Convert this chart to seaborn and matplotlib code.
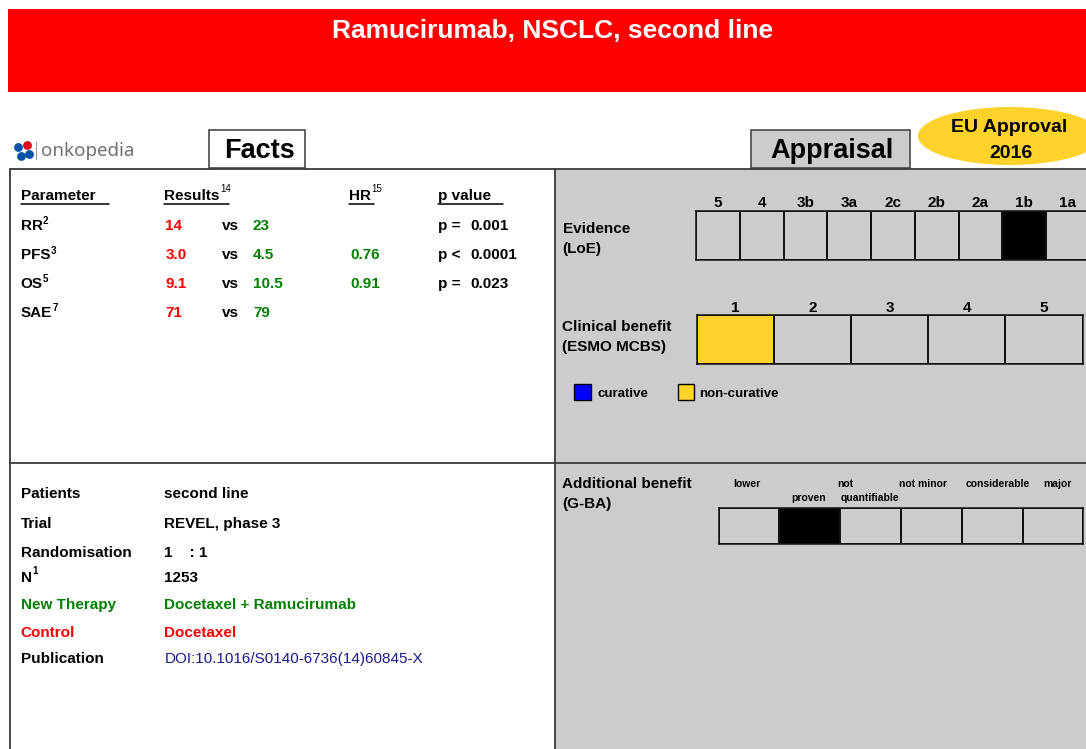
import numpy as np
import matplotlib.pyplot as plt
import seaborn as sns
from matplotlib.colors import ListedColormap
from matplotlib.patches import Rectangle, Ellipse

# ==============================================================================
# DATA
# ==============================================================================
title = "Ramucirumab, NSCLC, second line"
approval_text = "EU Approval"
approval_year = "2016"

fact_headers = ["Parameter", "Results", "HR", "p value"]
fact_header_refs = ["", "14", "15", ""]
fact_params = ["RR", "PFS", "OS", "SAE"]
fact_refs = ["2", "3", "5", "7"]
control_results = ["14", "3.0", "9.1", "71"]
new_results = ["23", "4.5", "10.5", "79"]
hazard_ratios = ["", "0.76", "0.91", ""]
p_signs = ["p =", "p <", "p =", ""]
p_values = ["0.001", "0.0001", "0.023", ""]

trial_labels = ["Patients", "Trial", "Randomisation", "N", "New Therapy", "Control", "Publication"]
trial_label_refs = ["", "", "", "1", "", "", ""]
trial_values = ["second line", "REVEL, phase 3", "1    : 1", "1253",
                "Docetaxel + Ramucirumab", "Docetaxel", "DOI:10.1016/S0140-6736(14)60845-X"]

loe_levels = ["5", "4", "3b", "3a", "2c", "2b", "2a", "1b", "1a"]
loe_rating = "1b"
esmo_grades = ["1", "2", "3", "4", "5"]
esmo_rating = "1"
gba_levels = ["lower", "not proven", "not quantifiable", "not minor", "considerable", "major"]
gba_rating = "not proven"

# ==============================================================================
# STYLE / LAYOUT (pixel units, figure is 1086 x 749)
# ==============================================================================
W, H = 1086, 749
RED = "#ff0000"
GREEN = "#008000"
NAVY = "#1a1a8c"
PANEL = "#cccccc"
GOLD = "#fdd22b"
EDGE = "#3a3a3a"

sns.set_theme(style="white")
plt.rcParams["font.family"] = ["Liberation Sans", "DejaVu Sans"]
plt.rcParams["text.color"] = "black"
plt.rcParams["xtick.color"] = "black"
plt.rcParams["xtick.labelcolor"] = "black"

fig = plt.figure(figsize=(W / 100, H / 100), dpi=100)
bg = fig.add_axes([0, 0, 1, 1])
bg.set_xlim(0, W)
bg.set_ylim(H, 0)
bg.axis("off")
renderer = fig.canvas.get_renderer()


def text_sup(x, y, base, sup, size=11, sup_size=7, rise=5, sup_weight="bold", **kw):
    """Draw base text with a small superscript right after it."""
    t = bg.text(x, y, base, fontsize=size, va="baseline", **kw)
    if sup:
        bb = t.get_window_extent(renderer)
        x_end = bg.transData.inverted().transform((bb.x1, bb.y0))[0]
        bg.text(x_end + 0.3, y - rise, sup, fontsize=sup_size, va="baseline",
                fontweight=sup_weight, color=kw.get("color", "black"))
    return t


# --- header band -------------------------------------------------------------
bg.add_patch(Rectangle((8, 8.5), W, 83, fc=RED, ec="none"))
bg.text(553, 37.7, title, color="white", fontsize=19, fontweight="bold",
        ha="center", va="baseline")

# --- logo ----------------------------------------------------------------------
bg.scatter([17.5, 20.5, 29], [147, 156, 153.5], s=40, color="#0054a6", zorder=3, linewidths=0)
bg.scatter([27], [144.5], s=40, color="#e2001a", zorder=3, linewidths=0)
bg.plot([36, 36], [141.5, 158.5], color="#9a9a9a", lw=0.8)
bg.text(40.5, 156.5, "onkopedia", fontsize=13.5, color="#707070", va="baseline",
        family=["Noto Sans", "DejaVu Sans"], fontweight="semibold")

# --- section tabs ----------------------------------------------------------------
bg.add_patch(Rectangle((208.5, 130), 96, 38, fc="white", ec=EDGE, lw=1.1))
bg.text(259, 158.3, "Facts", fontsize=19.5, fontweight="bold", ha="center", va="baseline")
bg.add_patch(Rectangle((751, 130), 159, 38, fc=PANEL, ec=EDGE, lw=1.1))
bg.text(832, 158.3, "Appraisal", fontsize=19.5, fontweight="bold", ha="center", va="baseline")
bg.add_patch(Ellipse((1010, 136), 184, 58, fc=GOLD, ec="none"))
bg.text(1009.5, 131.7, approval_text, fontsize=14, fontweight="bold", ha="center", va="baseline")
bg.text(1011, 158.3, approval_year, fontsize=14, fontweight="bold", ha="center", va="baseline")

# --- panels --------------------------------------------------------------------
bg.add_patch(Rectangle((555, 169), W - 555 + 5, H - 169 + 5, fc=PANEL, ec="none"))
bg.plot([10, W], [169, 169], color=EDGE, lw=1.3)
bg.plot([10, 10], [169, H + 2], color=EDGE, lw=1.3)
bg.plot([555, 555], [169, H + 2], color=EDGE, lw=1.3)
bg.plot([10, W], [462.5, 462.5], color=EDGE, lw=1.3)

# --- facts table -----------------------------------------------------------------
header_x = [20.7, 164.3, 349.3, 438.2]
underline_end = [109, 228.6, 374, 502.5]
for hx, ux, head, ref in zip(header_x, underline_end, fact_headers, fact_header_refs):
    text_sup(hx, 200, head, ref, fontweight="bold", rise=8.5, sup_weight="normal")
    bg.plot([hx, ux], [203.5, 203.5], color="black", lw=1.1)

row_y = [230, 259, 288, 316.7]
for i, yy in enumerate(row_y):
    text_sup(20.7, yy, fact_params[i], fact_refs[i], fontweight="bold", rise=5.5)
    bg.text(165.4, yy, control_results[i], color=RED, fontsize=11, fontweight="bold", va="baseline")
    bg.text(222, yy, "vs", fontsize=11, fontweight="bold", va="baseline")
    bg.text(252.9, yy, new_results[i], color=GREEN, fontsize=11, fontweight="bold", va="baseline")
    bg.text(350, yy, hazard_ratios[i], color=GREEN, fontsize=11, fontweight="bold", va="baseline")
    bg.text(438.2, yy, p_signs[i], fontsize=11, fontweight="bold", va="baseline")
    bg.text(470.7, yy, p_values[i], fontsize=11, fontweight="bold", va="baseline")

# --- trial description -----------------------------------------------------------
trial_y = [497.7, 527.7, 556.7, 582.3, 609.3, 636.7, 663.3]
label_colours = ["black", "black", "black", "black", GREEN, RED, "black"]
value_colours = ["black", "black", "black", "black", GREEN, RED, NAVY]
for i, yy in enumerate(trial_y):
    text_sup(20.7, yy, trial_labels[i], trial_label_refs[i], fontweight="bold",
             color=label_colours[i], rise=8.5)
    weight = "normal" if i == len(trial_y) - 1 else "bold"
    bg.text(164.3, yy, trial_values[i], color=value_colours[i], fontsize=11,
            fontweight=weight, va="baseline")

# --- appraisal labels --------------------------------------------------------------
for yy, txt in [(233, "Evidence"), (252.7, "(LoE)"), (331, "Clinical benefit"),
                (350.7, "(ESMO MCBS)"), (487.7, "Additional benefit"), (507.7, "(G-BA)")]:
    bg.text(562.5, yy, txt, fontsize=11, fontweight="bold", va="baseline")

# legend for ESMO scale
bg.add_patch(Rectangle((574, 383.5), 17, 16, fc="#0000ff", ec="black", lw=1))
bg.text(597, 396.7, "curative", fontsize=9.5, fontweight="bold", va="baseline")
bg.add_patch(Rectangle((677.5, 383.5), 16, 16, fc=GOLD, ec="black", lw=1))
bg.text(698.7, 396.7, "non-curative", fontsize=9.5, fontweight="bold", va="baseline")

# G-BA header words as laid out in the source slide
gba_header = [("lower", 747, 486.7), ("not", 845, 486.7), ("not minor", 922.7, 486.7),
              ("considerable", 998, 486.7), ("major", 1057.4, 486.7),
              ("proven", 809, 500.7), ("quantifiable", 869.7, 500.7)]
for txt, gx, gy in gba_header:
    bg.text(gx, gy, txt, fontsize=7.5, fontweight="bold", ha="center", va="baseline")


# --- rating grids (seaborn heatmaps) -----------------------------------------------
def rating_grid(left, top, cell_w, height, levels, rating, colour, show_labels=True):
    n = len(levels)
    ax = fig.add_axes([left / W, 1 - (top + height) / H, n * cell_w / W, height / H])
    flags = np.array([[1 if lv == rating else 0 for lv in levels]])
    sns.heatmap(flags, ax=ax, cmap=ListedColormap([PANEL, colour]), vmin=0, vmax=1,
                cbar=False, linewidths=1.1, linecolor="#111111",
                xticklabels=levels if show_labels else False, yticklabels=False)
    ax.xaxis.tick_top()
    ax.tick_params(axis="x", length=0, pad=0.5, labelsize=11, labelcolor="black")
    for lab in ax.get_xticklabels():
        lab.set_fontweight("bold")
        lab.set_rotation(0)
    for s in ax.spines.values():
        s.set_visible(True)
        s.set_color("#111111")
        s.set_linewidth(1.1)
    return ax


rating_grid(696.3, 210.7, 43.7, 49.3, loe_levels, loe_rating, "black")
rating_grid(697, 315.3, 77.1, 49, esmo_grades, esmo_rating, GOLD)
rating_grid(718.5, 508.3, 60.8, 35.7, gba_levels, gba_rating, "black", show_labels=False)

fig.savefig("out.png", dpi=100)
